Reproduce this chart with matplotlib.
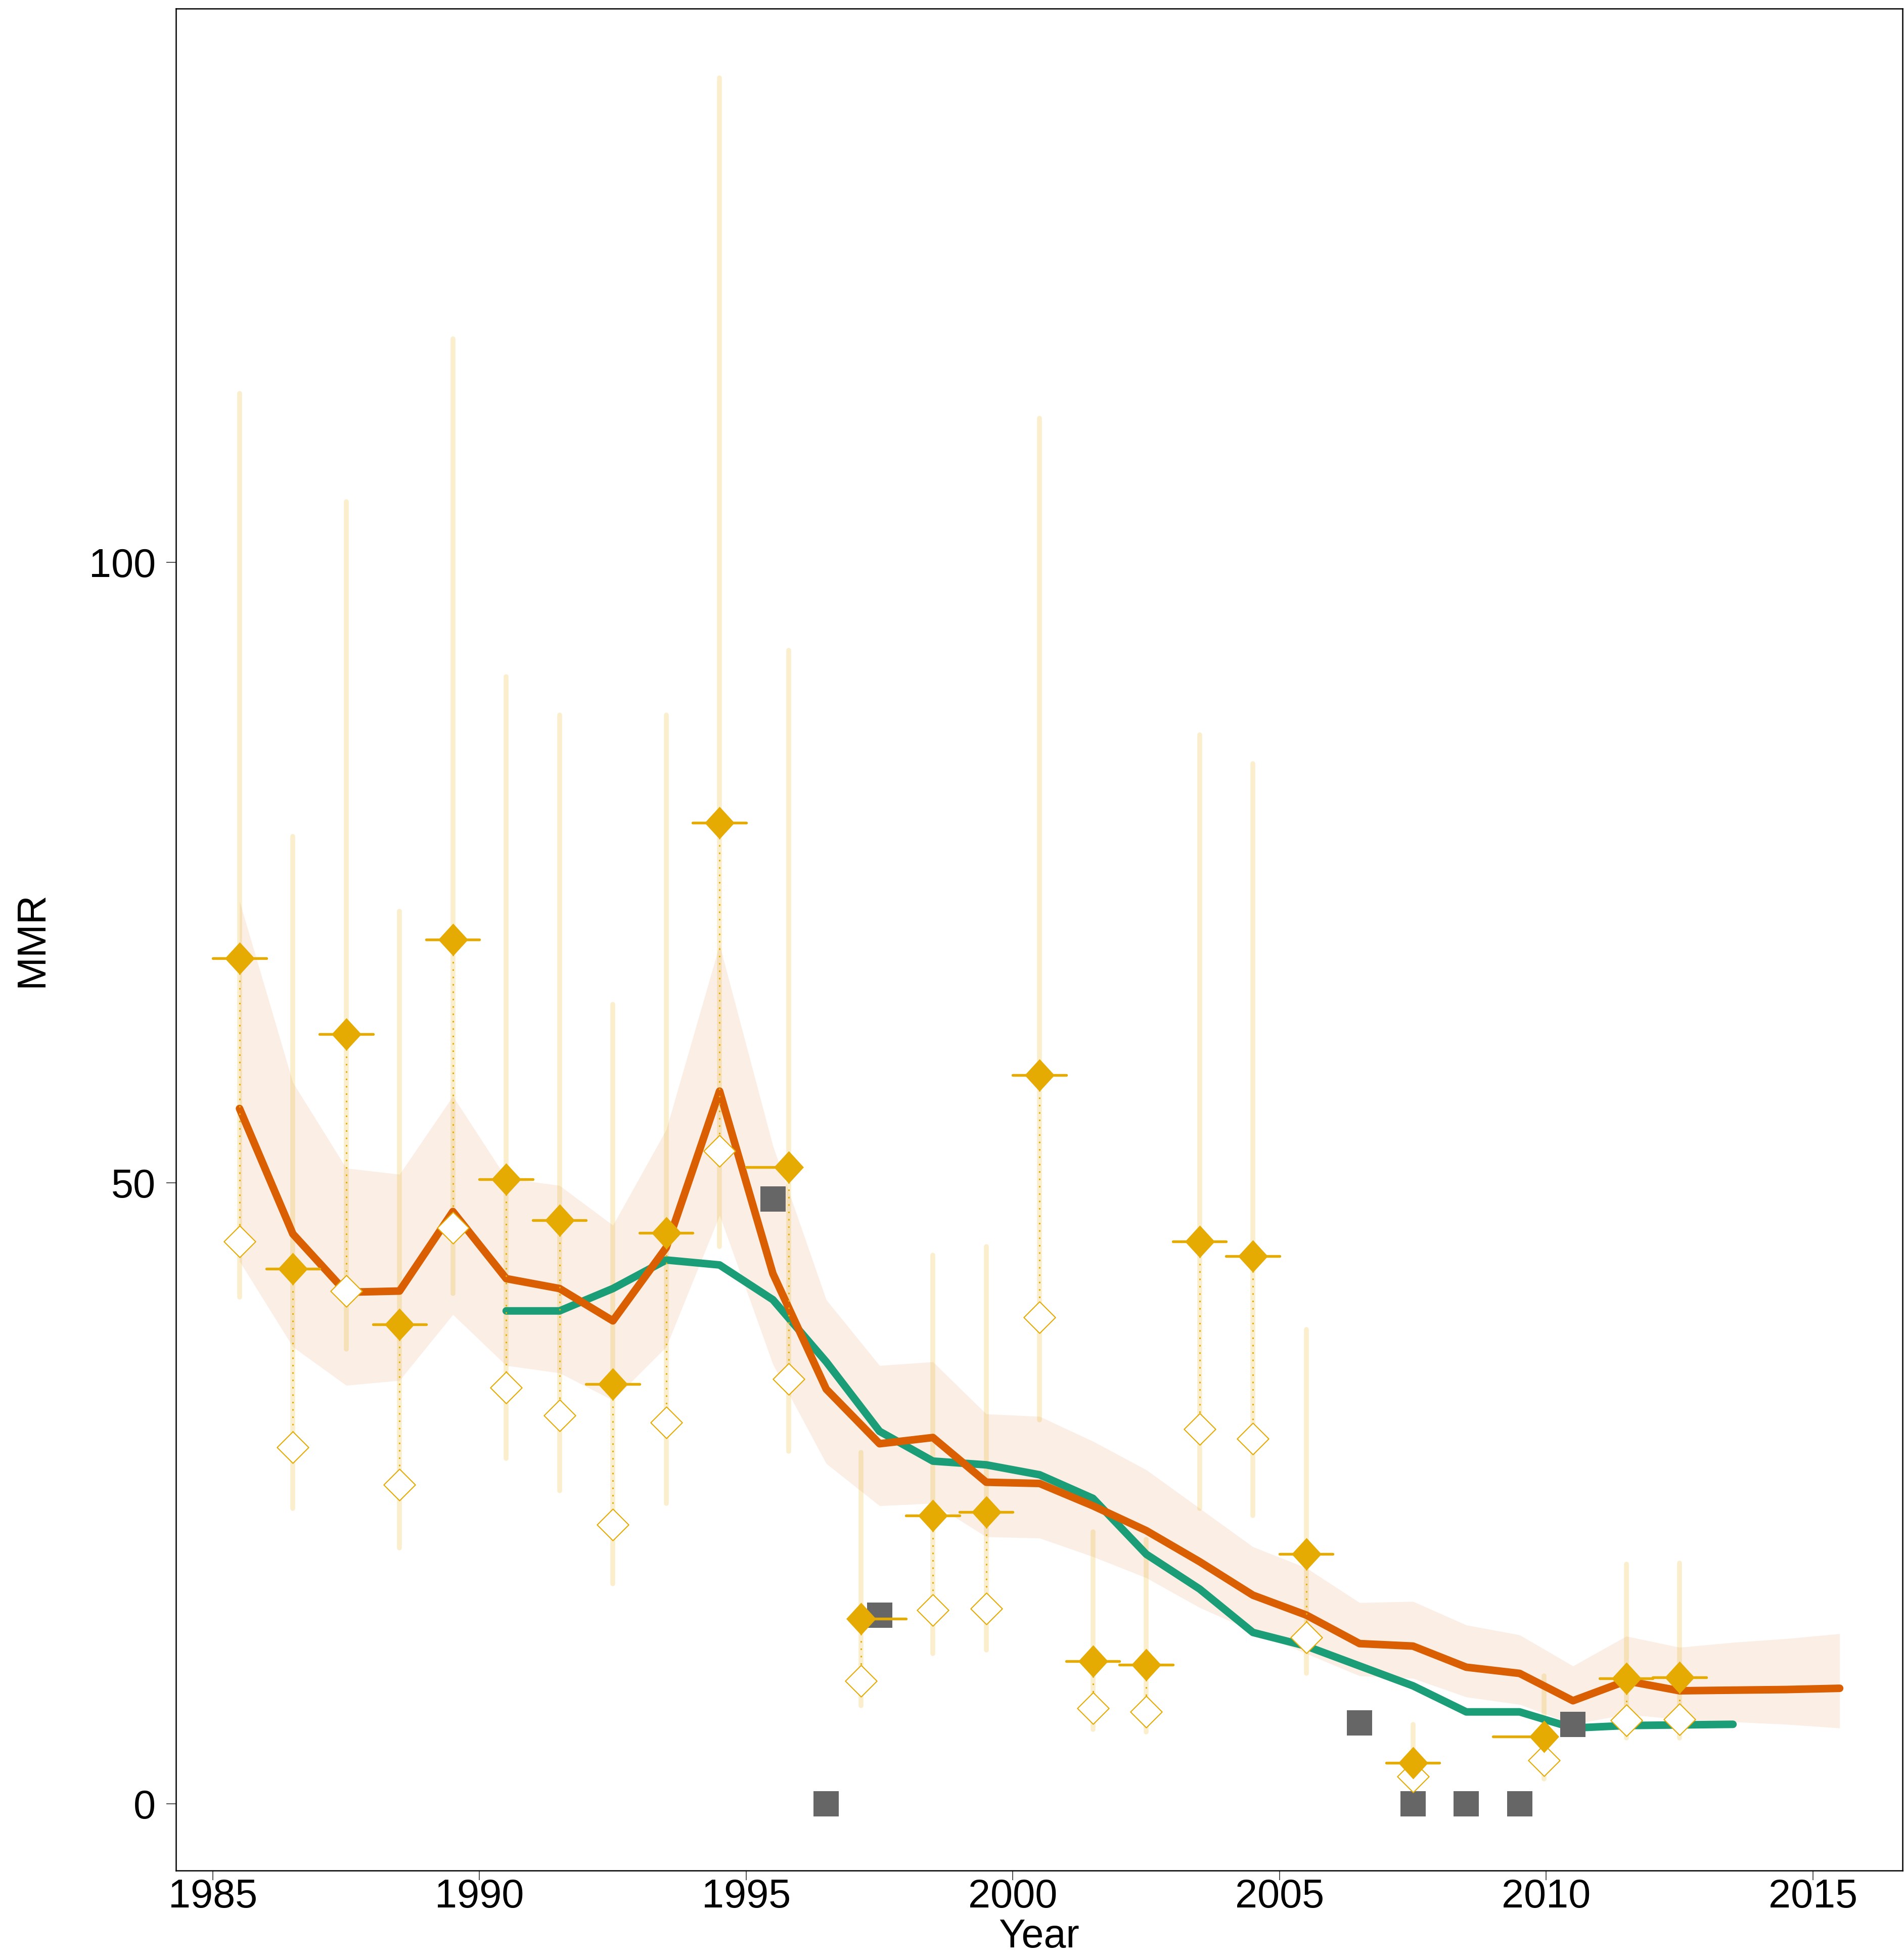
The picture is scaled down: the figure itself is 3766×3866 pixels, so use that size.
import matplotlib
matplotlib.use("Agg")
import matplotlib.pyplot as plt
import numpy as np
from matplotlib.path import Path

plt.rcParams['font.family'] = ['Liberation Sans', 'DejaVu Sans']

# model estimate (orange) with its band
est_year = np.arange(1985.5, 2016.0, 1.0)
est_mmr = [56.0, 45.9, 41.2, 41.3, 47.7, 42.3, 41.5, 38.9, 44.8, 57.4,
           42.7, 33.4, 29.0, 29.5, 25.9, 25.8, 24.0, 22.0, 19.5, 16.8,
           15.2, 12.9, 12.7, 11.0, 10.5, 8.3, 9.9, 9.1, 9.15, 9.2, 9.3]
est_upper = [72.7, 58.1, 51.2, 50.7, 57.0, 50.4, 49.8, 46.6, 54.3, 69.2,
             53.0, 40.6, 35.3, 35.6, 31.4, 31.2, 29.2, 26.9, 23.8, 20.7,
             19.0, 16.2, 16.3, 14.4, 13.6, 11.1, 13.5, 12.6, 13.0, 13.3, 13.7]
est_lower = [43.7, 36.8, 33.7, 34.1, 39.4, 35.3, 34.7, 32.5, 36.8, 47.4,
             35.4, 27.4, 24.0, 24.2, 21.5, 21.4, 19.9, 18.2, 15.8, 13.9,
             12.1, 10.3, 10.1, 8.6, 8.0, 6.4, 7.2, 6.8, 6.6, 6.4, 6.1]

# second estimate (green)
alt_year = np.arange(1990.5, 2014.0, 1.0)
alt_mmr = [39.7, 39.7, 41.5, 43.8, 43.4, 40.6, 35.6, 30.0, 27.6, 27.3,
           26.5, 24.6, 20.1, 17.3, 13.8, 12.7, 11.1, 9.5, 7.4, 7.4,
           6.1, 6.3, 6.35, 6.4]

# survey observations
obs_year = [1985.5, 1986.5, 1987.5, 1988.5, 1989.5, 1990.5, 1991.5, 1992.5,
            1993.5, 1994.5, 1995.8, 1997.15, 1998.5, 1999.5, 2000.5, 2001.5,
            2002.5, 2003.5, 2004.5, 2005.5, 2007.5, 2009.96, 2011.5, 2012.5]
obs_start = [1985.0, 1986.0, 1987.0, 1988.0, 1989.0, 1990.0, 1991.0, 1992.0,
             1993.0, 1994.0, 1995.0, 1997.15, 1998.0, 1999.0, 2000.0, 2001.0,
             2002.0, 2003.0, 2004.0, 2005.0, 2007.0, 2009.0, 2011.0, 2012.0]
obs_end = [1986.0, 1987.0, 1988.0, 1989.0, 1990.0, 1991.0, 1992.0, 1993.0,
           1994.0, 1995.0, 1995.8, 1998.0, 1999.0, 2000.0, 2001.0, 2002.0,
           2003.0, 2004.0, 2005.0, 2006.0, 2008.0, 2009.96, 2012.0, 2013.0]
obs_adj = [68.1, 43.1, 62.0, 38.6, 69.6, 50.3, 47.0, 33.8, 46.0, 79.0,
           51.3, 14.9, 23.2, 23.5, 58.7, 11.5, 11.2, 45.3, 44.1, 20.1,
           3.3, 5.4, 10.1, 10.2]
obs_raw = [45.3, 28.7, 41.3, 25.7, 46.4, 33.5, 31.3, 22.5, 30.7, 52.6,
           34.2, 9.9, 15.6, 15.7, 39.2, 7.7, 7.4, 30.2, 29.4, 13.4,
           2.2, 3.5, 6.7, 6.8]
obs_low = [40.8, 23.8, 36.6, 20.6, 41.1, 27.8, 25.2, 17.7, 24.2, 44.9,
           28.4, 7.9, 12.1, 12.4, 30.9, 6.0, 5.8, 23.8, 23.2, 10.5,
           1.4, 2.0, 5.3, 5.3]
obs_high = [113.6, 77.9, 104.9, 71.9, 118.0, 90.8, 87.7, 64.4, 87.7, 139.0,
            92.9, 28.3, 44.2, 44.9, 111.6, 21.9, 21.3, 86.1, 83.8, 38.2,
            6.4, 10.3, 19.3, 19.4]

# other data points (grey)
other_year = [1995.5, 1996.5, 1997.5, 2006.5, 2007.5, 2008.5, 2009.5, 2010.5]
other_mmr = [48.7, 0.0, 15.2, 6.5, 0.0, 0.0, 0.0, 6.4]

orange = '#D95F02'
green = '#1B9E77'
gold = '#E6AB02'
grey = '#666666'

W, H = 3766, 3866
fig = plt.figure(figsize=(W / 300, H / 300), dpi=300)
ax = fig.add_axes([348 / W, 1 - 3699 / H, (3763 - 348) / W, (3699 - 17) / H])

ax.fill_between(est_year, est_lower, est_upper, color=orange, alpha=0.1,
                linewidth=0, zorder=1)
ax.vlines(obs_year, obs_low, obs_high, color=gold, alpha=0.2, linewidth=2.3,
          capstyle='round', zorder=2)

ax.plot(alt_year, alt_mmr, color=green, linewidth=3.6, solid_capstyle='round',
        solid_joinstyle='round', zorder=3)
ax.plot(est_year, est_mmr, color=orange, linewidth=3.6, solid_capstyle='round',
        solid_joinstyle='round', zorder=4)

ax.plot(other_year, other_mmr, linestyle='none', marker='s', markersize=12.2,
        color=grey, markeredgewidth=0, zorder=5)

for x, a, r in zip(obs_year, obs_adj, obs_raw):
    ax.plot([x, x], [a, r], color=gold, linewidth=0.7,
            linestyle=(0, (1, 4)), zorder=6)
ax.hlines(obs_adj, obs_start, obs_end, color=gold, linewidth=1.3,
          capstyle='round', zorder=6)

open_d = Path([(0, 1), (1, 0), (0, -1), (-1, 0), (0, 1)],
              [Path.MOVETO, Path.LINETO, Path.LINETO, Path.LINETO, Path.CLOSEPOLY])
fill_d = Path([(0, 1), (0.92, 0), (0, -1), (-0.92, 0), (0, 1)],
              [Path.MOVETO, Path.LINETO, Path.LINETO, Path.LINETO, Path.CLOSEPOLY])
ax.plot(obs_year, obs_raw, linestyle='none', marker=open_d, markersize=15.0,
        markerfacecolor='white', markeredgecolor=gold, markeredgewidth=0.5,
        zorder=7)
ax.plot(obs_year, obs_adj, linestyle='none', marker=fill_d, markersize=15.4,
        color=gold, markeredgewidth=0, zorder=8)

ax.set_xlim(1984.308, 2016.678)
ax.set_ylim(-5.38, 144.6)
ax.set_xticks([1985, 1990, 1995, 2000, 2005, 2010, 2015])
ax.set_yticks([0, 50, 100])
ax.tick_params(axis='x', length=4.5, width=0.4, color='#333333', pad=-1,
               labelsize=19, labelcolor='black')
ax.tick_params(axis='y', length=4.5, width=0.4, color='#333333', pad=5,
               labelsize=19, labelcolor='black')
for s in ax.spines.values():
    s.set_linewidth(0.6)
    s.set_color('black')

ax.set_xlabel('Year', fontsize=19, labelpad=1)
ax.set_ylabel('MMR', fontsize=19, labelpad=18)

fig.savefig('out.png', dpi=300)
